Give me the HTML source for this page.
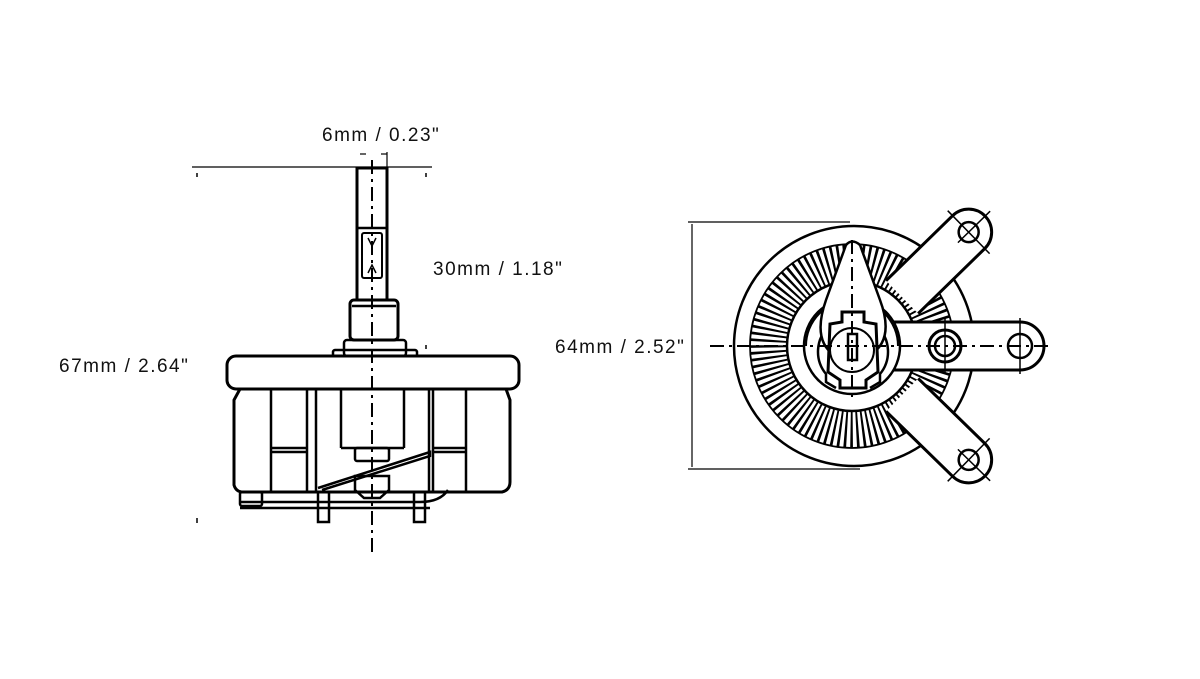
<!DOCTYPE html>
<html><head><meta charset="utf-8"><style>
html,body{margin:0;padding:0;background:#fff;}
svg{display:block}
text{font-family:"Liberation Sans",sans-serif;font-size:19px;letter-spacing:1.5px;fill:#111}
</style></head><body>
<svg width="1200" height="679" viewBox="0 0 1200 679" xmlns="http://www.w3.org/2000/svg">
<g fill="none" stroke="#000" stroke-width="2.5">
<!-- LEFT VIEW -->
<line x1="192" y1="167" x2="432" y2="167" stroke-width="1.2"/>
<line x1="387" y1="152" x2="387" y2="177" stroke-width="1.2"/>
<line x1="360" y1="154" x2="366" y2="154" stroke-width="1.2"/>
<line x1="381" y1="154" x2="387" y2="154" stroke-width="1.2"/>
<rect x="357" y="168" width="30" height="132" stroke-width="3"/>
<line x1="357" y1="228" x2="387" y2="228"/>
<rect x="362" y="233" width="20" height="45" rx="2" stroke-width="2"/>
<path d="M368 238 L372 246 L376 238 M368 273 L372 265 L376 273" stroke-width="1.5"/>
<rect x="350" y="300" width="48" height="40" rx="4" stroke-width="3"/>
<line x1="352" y1="306" x2="396" y2="306"/>
<rect x="344" y="340" width="62" height="16" rx="3"/>
<rect x="333" y="350" width="84" height="8" rx="2"/>
<rect x="346" y="357" width="58" height="10" rx="3"/>
<rect x="227" y="356" width="292" height="33" rx="9" fill="#fff" stroke-width="3"/>
<path d="M240 389 L234 400 L234 485 Q236 492 243 492 L502 492 Q510 490 510 482 L510 400 L506 389" stroke-width="3"/>
<line x1="271" y1="389" x2="271" y2="492"/>
<line x1="307" y1="389" x2="307" y2="492"/>
<line x1="316" y1="389" x2="316" y2="492"/>
<line x1="341" y1="389" x2="341" y2="448"/>
<line x1="404" y1="389" x2="404" y2="448"/>
<line x1="341" y1="448" x2="404" y2="448"/>
<line x1="429" y1="389" x2="429" y2="492"/>
<line x1="433" y1="389" x2="433" y2="492"/>
<line x1="466" y1="389" x2="466" y2="492"/>
<line x1="271" y1="448" x2="307" y2="448"/>
<line x1="271" y1="452" x2="307" y2="452"/>
<line x1="433" y1="448" x2="466" y2="448"/>
<line x1="433" y1="452" x2="466" y2="452"/>
<rect x="355" y="448" width="34" height="13" rx="2"/>
<path d="M318 488 L430 452 L430 456 L322 490" stroke-width="2.5"/>
<path d="M355 476 L389 476 L389 490 L380 498 L364 498 L355 490 Z"/>
<rect x="240" y="492" width="22" height="14" rx="2"/>
<path d="M240 502 L420 502 Q440 502 448 490"/>
<line x1="240" y1="508" x2="430" y2="508"/>
<rect x="318" y="492" width="11" height="30"/>
<rect x="414" y="492" width="11" height="30"/>
<line x1="372" y1="160" x2="372" y2="552" stroke-width="2" stroke-dasharray="14 5 3 5"/>
<line x1="197" y1="173" x2="197" y2="177" stroke-width="1.5"/>
<line x1="426" y1="173" x2="426" y2="177" stroke-width="1.5"/>
<line x1="426" y1="345" x2="426" y2="349" stroke-width="1.5"/>
<line x1="197" y1="518" x2="197" y2="523" stroke-width="1.5"/>

<!-- RIGHT VIEW -->
<line x1="688" y1="222" x2="850" y2="222" stroke-width="1.2"/>
<line x1="688" y1="469" x2="860" y2="469" stroke-width="1.2"/>
<line x1="692" y1="224" x2="692" y2="467" stroke-width="1.2"/>
<circle cx="854" cy="346" r="120" fill="#fff"/>
<circle cx="852" cy="346" r="84" stroke-width="36" stroke-dasharray="2.3 3.4"/>
<circle cx="852" cy="346" r="102" stroke-width="1.8"/>
<circle cx="852" cy="346" r="65" stroke-width="2.5" fill="#fff"/>
<!-- arms -->
<g transform="rotate(-44.3 852 346)">
<path d="M922 323 L1015 323 A23 23 0 0 1 1015 369 L922 369" fill="#fff" stroke-width="3"/>
<circle cx="1015" cy="346" r="10"/>
<line x1="1015" y1="316" x2="1015" y2="376" stroke-width="1.5"/>
<line x1="1000" y1="346" x2="1045" y2="346" stroke-width="1.5"/>
</g>
<g transform="rotate(44.3 852 346)">
<path d="M922 323 L1015 323 A23 23 0 0 1 1015 369 L922 369" fill="#fff" stroke-width="3"/>
<circle cx="1015" cy="346" r="10"/>
<line x1="1015" y1="316" x2="1015" y2="376" stroke-width="1.5"/>
<line x1="1000" y1="346" x2="1045" y2="346" stroke-width="1.5"/>
</g>
<path d="M890 322 L1020 322 A24 24 0 0 1 1020 370 L890 370" fill="#fff" stroke-width="3"/>
<circle cx="1020" cy="346" r="12"/>
<circle cx="945" cy="346" r="16" stroke-width="3"/>
<circle cx="945" cy="346" r="10"/>
<line x1="945" y1="318" x2="945" y2="374" stroke-width="1.5"/>
<line x1="1020" y1="318" x2="1020" y2="374" stroke-width="1.5"/>
<!-- hub -->
<circle cx="852" cy="346" r="48" fill="#fff"/>
<path d="M806 346 A46 46 0 0 1 898 346" stroke-width="2"/>
<path d="M836 388 L826 382 L826 374 A35 35 0 1 1 880 374 L880 382 L870 388" fill="#fff"/>
<path d="M846 245 Q852 238 860 245 L880 300 Q895 340 870 355 L834 355 Q812 340 826 300 Z" fill="#fff"/>
<path d="M842 312 L864 312 L864 322 L876 324 L878 372 L866 380 L866 388 L840 388 L840 380 L828 372 L830 324 L842 322 Z" fill="#fff" stroke-width="3"/>
<circle cx="852" cy="350" r="22" stroke-width="2"/>
<rect x="848" y="334" width="9" height="26" stroke-width="2.5"/>
<line x1="710" y1="346" x2="1050" y2="346" stroke-width="2" stroke-dasharray="14 5 3 5"/>
<line x1="852" y1="240" x2="852" y2="400" stroke-width="2" stroke-dasharray="14 5 3 5"/>
</g>
<text x="322" y="141">6mm / 0.23"</text>
<text x="433" y="275">30mm / 1.18"</text>
<text x="59" y="372">67mm / 2.64"</text>
<text x="555" y="353">64mm / 2.52"</text>
</svg>
</body></html>
